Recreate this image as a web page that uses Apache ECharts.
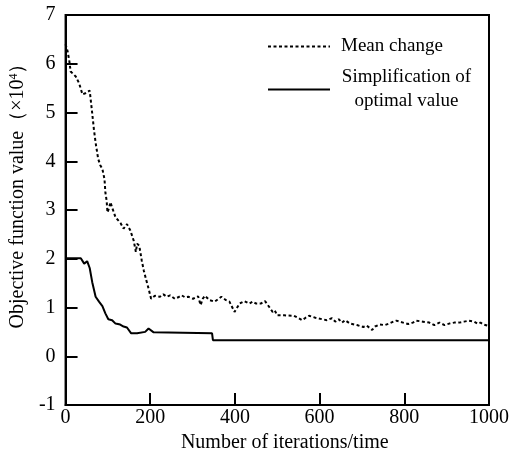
<!DOCTYPE html>
<html>
<head>
<meta charset="utf-8">
<script src="https://cdn.jsdelivr.net/npm/echarts@6/dist/echarts.min.js"></script>
<style>
html,body{margin:0;padding:0;background:#fff;}
#chart{width:512px;height:458px;}
</style>
</head>
<body>
<div id="chart"></div>
<script>
var meanX = [0,5,9,12,24,32,40,48,57,62,67,71,77,82,87,92,94,97,99,103,106,110,118,130,137,145,153,161,166,169,174,180,185,190,196,202,211,223,231,239,247,258,266,274,282,290,301,313,319,324,329,340,352,360,368,379,387,399,411,422,434,442,450,461,471,481,489,494,500,516,539,551,559,567,575,590,606,617,629,637,645,653,660,672,688,703,711,724,731,742,754,764,774,781,789,797,809,820,828,844,859,871,883,895,906,918,930,941,953,965,973,980,988,996,1000];
var meanY = [6.40,6.25,6.05,5.84,5.74,5.60,5.37,5.40,5.45,5.06,4.65,4.38,4.05,3.92,3.84,3.63,3.36,3.19,2.95,3.05,3.16,3.05,2.85,2.73,2.62,2.71,2.58,2.37,2.14,2.31,2.27,1.96,1.75,1.58,1.39,1.18,1.24,1.22,1.27,1.22,1.25,1.18,1.21,1.25,1.21,1.22,1.18,1.23,1.05,1.18,1.24,1.15,1.12,1.17,1.22,1.15,1.12,0.91,1.08,1.13,1.08,1.12,1.08,1.08,1.13,1.01,0.91,0.94,0.84,0.84,0.83,0.78,0.74,0.79,0.83,0.79,0.76,0.74,0.78,0.71,0.76,0.69,0.74,0.67,0.64,0.60,0.63,0.54,0.61,0.65,0.64,0.67,0.71,0.73,0.71,0.69,0.66,0.69,0.73,0.71,0.69,0.64,0.69,0.64,0.67,0.69,0.69,0.71,0.73,0.71,0.67,0.69,0.65,0.63,0.62];
var optX = [0,36,44,51,57,63,71,79,87,94,101,110,118,129,137,145,155,169,188,196,208,346,348,1000];
var optY = [2.01,2.01,1.90,1.95,1.81,1.52,1.22,1.12,1.03,0.88,0.76,0.74,0.67,0.65,0.61,0.59,0.47,0.47,0.50,0.57,0.49,0.47,0.33,0.33];
var seriesNames = ['Mean change', 'Simplification of\noptimal value'];
var xTicks = {min: 0, max: 1000, interval: 200};
var yTicks = {min: -1, max: 7, interval: 1};

function pairs(xs, ys){ return xs.map(function(x,i){ return [x, ys[i]]; }); }

var FONT = "'Liberation Serif','Times New Roman',serif";
var chart = echarts.init(document.getElementById('chart'), null, {renderer:'canvas'});
chart.setOption({
  animation: false,
  backgroundColor: '#fff',
  textStyle: {fontFamily: FONT, color: '#000'},
  grid: {left: 63, right: 22, top: 15, bottom: 51, show: true, borderColor: '#000', borderWidth: 2, backgroundColor: 'transparent'},
  legend: {
    left: 267, top: 37, padding: 0, orient: 'vertical', itemWidth: 62, itemHeight: 14, itemGap: 12,
    data: seriesNames,
    itemStyle: {opacity: 0, color: 'transparent', borderWidth: 0},
    formatter: function(name){
      var parts = name.split('\n');
      if (parts.length === 1) return '{b|' + name + '}';
      return parts.map(function(p){ return '{a|' + p + '}'; }).join('\n');
    },
    textStyle: {
      fontFamily: FONT, fontSize: 19, color: '#000', padding: [0,0,0,6],
      rich: {
        a: {fontFamily: FONT, fontSize: 19, color: '#000', width: 131, align: 'center', lineHeight: 24},
        b: {fontFamily: FONT, fontSize: 19, color: '#000', lineHeight: 24}
      }
    }
  },
  xAxis: {
    type: 'value', min: xTicks.min, max: xTicks.max, interval: xTicks.interval, position: 'bottom',
    name: 'Number of iterations/time', nameLocation: 'middle', nameGap: 28,
    nameTextStyle: {fontFamily: FONT, fontSize: 20, color: '#000', padding: [0,0,0,15]},
    axisLine: {show: true, onZero: false, lineStyle: {color: '#000', width: 2}},
    axisTick: {show: true, inside: true, length: 12, lineStyle: {color: '#000', width: 2}},
    axisLabel: {fontFamily: FONT, fontSize: 20, color: '#000', margin: 3, formatter: function(v){ return String(v); }},
    splitLine: {show: false}
  },
  yAxis: {
    type: 'value', min: yTicks.min, max: yTicks.max, interval: yTicks.interval, position: 'left',
    name: 'Objective function value（×10{sup|4}）', nameLocation: 'middle', nameGap: 31,
    nameTextStyle: {fontFamily: FONT, fontSize: 20, color: '#000', padding: [0,0,0,38],
      rich: {sup: {fontFamily: FONT, fontSize: 12, color: '#000', verticalAlign: 'top', padding: [0,0,8,0]}}},
    axisLine: {show: true, onZero: false, lineStyle: {color: '#000', width: 2}},
    axisTick: {show: true, inside: true, length: 12, lineStyle: {color: '#000', width: 2}},
    axisLabel: {fontFamily: FONT, fontSize: 20, color: '#000', margin: 10, formatter: function(v){ return String(v); }},
    splitLine: {show: false}
  },
  series: [
    {name: seriesNames[0], type: 'line', data: pairs(meanX, meanY), showSymbol: false, symbol: 'none',
     lineStyle: {color: '#000', width: 2, type: [3, 2.5]}, itemStyle: {color: '#000'}},
    {name: seriesNames[1], type: 'line', data: pairs(optX, optY), showSymbol: false, symbol: 'none',
     lineStyle: {color: '#000', width: 2, type: 'solid'}, itemStyle: {color: '#000'}}
  ]
});
</script>
</body>
</html>
